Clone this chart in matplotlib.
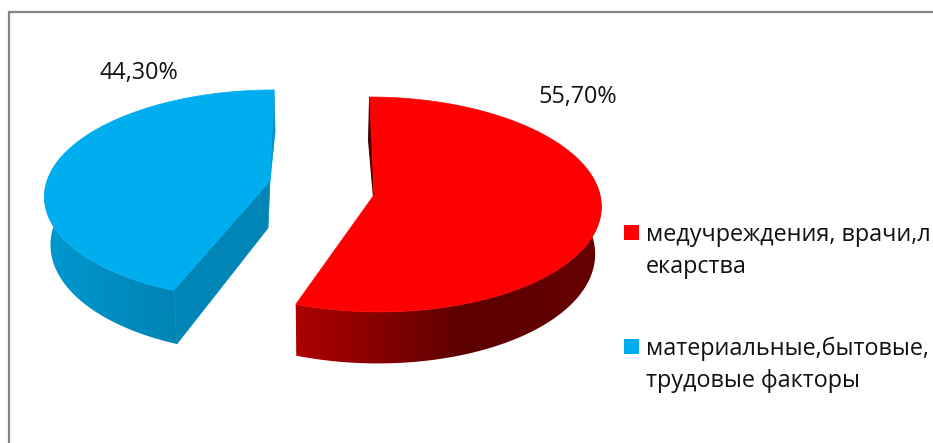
import numpy as np
import matplotlib
matplotlib.use("Agg")
import matplotlib.pyplot as plt
from matplotlib.colors import LinearSegmentedColormap
from matplotlib.patches import Polygon, Rectangle

categories = ["медучреждения, врачи,л\nекарства", "материальные,бытовые,\nтрудовые факторы"]
values = [55.7, 44.3]
value_labels = ["55,70%", "44,30%"]
colors = ["#FF0000", "#00AEEF"]

plt.rcParams["font.family"] = ["Open Sans", "DejaVu Sans"]
W, H = 933, 443
fig = plt.figure(figsize=(W / 100, H / 100), dpi=100)
ax = fig.add_axes([0, 0, 1, 1])
ax.set_xlim(0, W)
ax.set_ylim(H, 0)
ax.axis("off")

VP, DEPTH, SHRINK = 320.0, 47.0, 0.978


def top(p, th):
    s = 1 / (1 + p["k"] * np.cos(th))
    return p["vp"] + (p["cx"] - p["vp"] + p["a"] * np.sin(th)) * s, p["cy"] - p["b"] * np.cos(th) * s


def bot(p, th):
    x, y = top(p, th)
    s = 1 / (1 + p["k"] * np.cos(th))
    return VP + (x - VP) * SHRINK, y + DEPTH * s


def gradient(poly, x0, x1, stops):
    cmap = LinearSegmentedColormap.from_list("g", stops)
    ys = [q[1] for q in poly]
    xs = [q[0] for q in poly]
    # the ramp runs x0..x1; the image itself spans the whole polygon
    lo, hi = min(xs + [x0]) - 2, max(xs + [x1]) + 2
    ramp = np.clip((np.linspace(lo, hi, 512) - x0) / (x1 - x0), 0, 1)
    im = ax.imshow(ramp[None, :], cmap=cmap, vmin=0, vmax=1, aspect="auto",
                   extent=[lo, hi, max(ys) + 1, min(ys) - 1], zorder=2)
    im.set_clip_path(Polygon(poly, closed=True, transform=ax.transData))
    ax.set_xlim(0, W)
    ax.set_ylim(H, 0)


total = sum(values)
split = 2 * np.pi * values[0] / total

# red slice
red = dict(cx=374.0, cy=195.0, a=226.0, b=106.6, k=0.088, vp=320.0)
cut = split - np.radians(0.8)
c = (red["cx"], red["cy"])
th = np.linspace(np.pi / 2 - 0.3, cut, 150)
tx, ty = top(red, th)
bx, by = bot(red, th)
gradient(list(zip(tx, ty)) + list(zip(bx[::-1], by[::-1])), 296, 602,
         [(0, "#AD0000"), (0.55, "#5C0000"), (1, "#660000")])
ax.add_patch(Polygon([top(red, 0.0), bot(red, 0.0), (c[0] - 0.5, c[1] + 2)], closed=True,
                     fc="#4A0000", ec="#4A0000", lw=0.8, zorder=2))
th = np.linspace(0, cut, 300)
tx, ty = top(red, th)
ax.add_patch(Polygon(list(zip(tx, ty)) + [c], closed=True, fc=colors[0], ec=colors[0], lw=0.5, zorder=3))

# blue slice
blue = dict(cx=270.0, cy=181.0, a=223.0, b=103.0, k=0.131, vp=305.0)
cut = split + np.radians(0.6)
c = (blue["cx"], blue["cy"])
th = np.linspace(cut, 3 * np.pi / 2 + 0.3, 150)
tx, ty = top(blue, th)
bx, by = bot(blue, th)
gradient(list(zip(tx, ty)) + list(zip(bx[::-1], by[::-1])), 45, 178,
         [(0, "#0099CF"), (1, "#0083B3")])
corner_t, corner_b = top(blue, cut), bot(blue, cut)
ax.add_patch(Polygon([c, corner_t, corner_b, (c[0] - 2, c[1] + DEPTH)], closed=True,
                     fc="#0085B6", ec="#0085B6", lw=0.5, zorder=2.5))
ax.add_patch(Polygon([top(blue, 0.0), bot(blue, 0.0), c], closed=True,
                     fc="#0090C4", ec="#0090C4", lw=0.5, zorder=2.5))
th = np.linspace(cut, 2 * np.pi, 300)
tx, ty = top(blue, th)
ax.add_patch(Polygon(list(zip(tx, ty)) + [c], closed=True, fc=colors[1], ec=colors[1], lw=0.5, zorder=3))

# value labels
FS = 16.8
ax.text(578, 96.5, value_labels[0], fontsize=FS, color="#111111", ha="center", va="center", zorder=5)
ax.text(139, 72.5, value_labels[1], fontsize=FS, color="#111111", ha="center", va="center", zorder=5)

# legend
for y, col, lab in zip((225, 339), colors, categories):
    ax.add_patch(Rectangle((624, y), 15, 15, fc=col, ec="none", zorder=5))
    ax.text(646, y + 26, lab, fontsize=FS, color="#111111", ha="left", va="center",
            linespacing=1.42, zorder=5)

# frame
ax.plot([W, 8.5, 8.5], [11.5, 11.5, H], color="#868686", lw=1.6, solid_joinstyle="miter", zorder=6)

fig.savefig("out.png", dpi=100)
